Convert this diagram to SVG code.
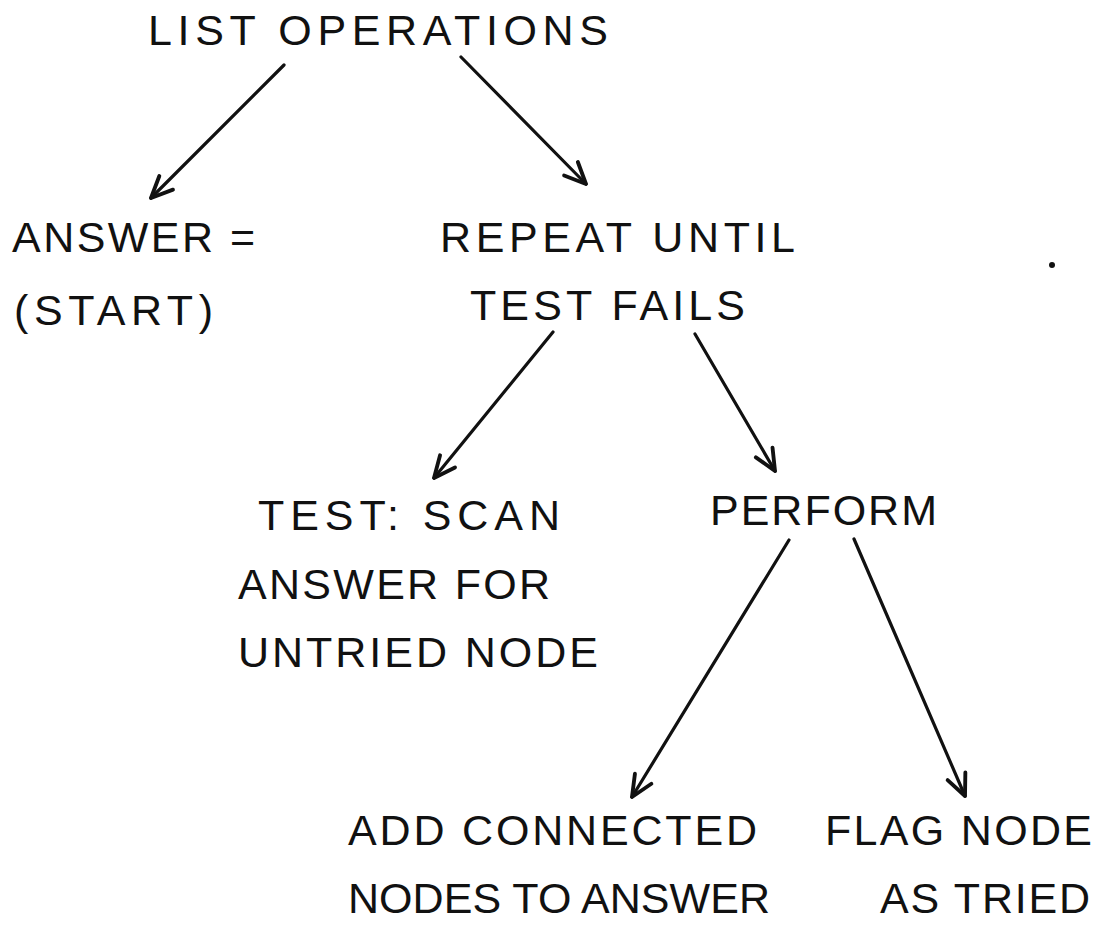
<svg xmlns="http://www.w3.org/2000/svg" width="1108" height="950" viewBox="0 0 1108 950">
  <style>
    .lbl { font-family: "Liberation Sans", Arial, sans-serif; font-size: 43px; fill: #111; }
    .edge { stroke: #111; stroke-width: 3.2; fill: none; stroke-linecap: round; marker-end: url(#vhead); }
  </style>
  <defs>
    <marker id="vhead" markerUnits="userSpaceOnUse" markerWidth="30" markerHeight="30" viewBox="-24 -14 28 28" refX="0" refY="0" orient="auto">
      <path d="M -20,-9 L 0,0 L -20,9" fill="none" stroke="#111" stroke-width="3.6" stroke-linecap="round" stroke-linejoin="round"/>
    </marker>
  </defs>
  <rect width="1108" height="950" fill="#fff"/>

  <g id="connectors">
    <line class="edge" x1="284" y1="65" x2="151" y2="198"/>
    <line class="edge" x1="461" y1="57" x2="586" y2="184"/>
    <line class="edge" x1="553" y1="332" x2="434" y2="478"/>
    <line class="edge" x1="695" y1="334" x2="775" y2="471"/>
    <line class="edge" x1="789" y1="540" x2="632" y2="797"/>
    <line class="edge" x1="854" y1="539" x2="965" y2="796"/>
  </g>

  <g id="list-operations">
    <text class="lbl" x="148" y="45" textLength="460" lengthAdjust="spacing">LIST OPERATIONS</text>
  </g>
  <g id="answer-start">
    <text class="lbl" x="12" y="252" textLength="243" lengthAdjust="spacing">ANSWER =</text>
    <text class="lbl" x="14" y="325" textLength="199" lengthAdjust="spacing">(START)</text>
  </g>
  <g id="repeat-until">
    <text class="lbl" x="440" y="252" textLength="355" lengthAdjust="spacing">REPEAT UNTIL</text>
    <text class="lbl" x="470" y="320" textLength="275" lengthAdjust="spacing">TEST FAILS</text>
  </g>
  <g id="test-scan">
    <text class="lbl" x="258" y="530" textLength="302" lengthAdjust="spacing">TEST: SCAN</text>
    <text class="lbl" x="238" y="599" textLength="312" lengthAdjust="spacing">ANSWER FOR</text>
    <text class="lbl" x="238" y="667" textLength="360" lengthAdjust="spacing">UNTRIED NODE</text>
  </g>
  <g id="perform">
    <text class="lbl" x="710" y="525" textLength="227" lengthAdjust="spacing">PERFORM</text>
  </g>
  <g id="add-connected">
    <text class="lbl" x="348" y="845" textLength="409" lengthAdjust="spacing">ADD CONNECTED</text>
    <text class="lbl" x="348" y="913" textLength="422" lengthAdjust="spacing">NODES TO ANSWER</text>
  </g>
  <g id="flag-node">
    <text class="lbl" x="825" y="845" textLength="267" lengthAdjust="spacing">FLAG NODE</text>
    <text class="lbl" x="880" y="913" textLength="210" lengthAdjust="spacing">AS TRIED</text>
  </g>

  <circle cx="1052" cy="265" r="3" fill="#111"/>
</svg>
